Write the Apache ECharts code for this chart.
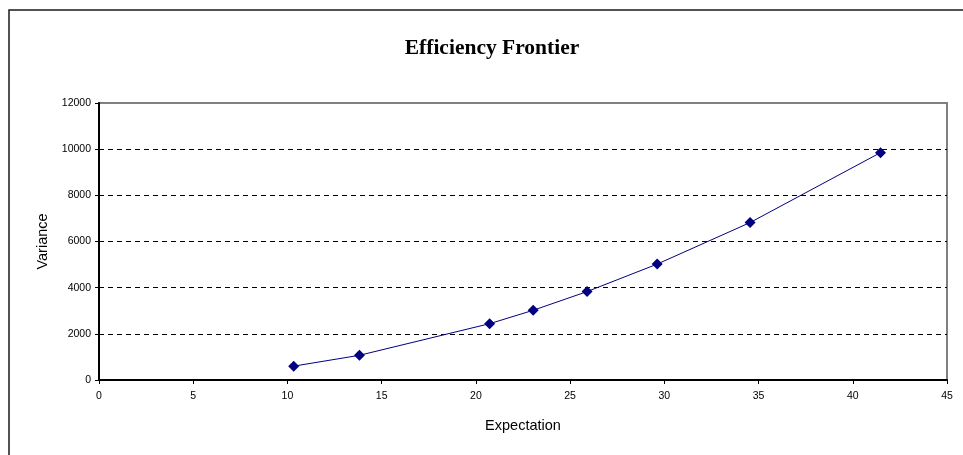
<!DOCTYPE html>
<html>
<head>
<meta charset="utf-8">
<script src="https://cdn.jsdelivr.net/npm/echarts@6/dist/echarts.min.js"></script>
<style>
html,body{margin:0;padding:0;background:#fff;}
#chart{width:963px;height:455px;}
</style>
</head>
<body>
<div id="chart"></div>
<script>
var chartTitle = "Efficiency Frontier";
var xAxisName = "Expectation";
var yAxisName = "Variance";
var expectation = [10.33, 13.82, 20.73, 23.04, 25.9, 29.62, 34.55, 41.47];
var variance = [600, 1070, 2440, 3020, 3830, 5020, 6820, 9850];

var points = expectation.map(function (x, i) { return [x, variance[i]]; });

var chart = echarts.init(document.getElementById('chart'), null, {renderer: 'canvas'});
chart.setOption({
  animation: false,
  backgroundColor: '#fff',
  title: {
    text: chartTitle,
    left: 487,
    textAlign: 'center',
    top: 32,
    textStyle: {fontFamily: '"Liberation Serif", "Times New Roman", serif', fontWeight: 'bold', fontSize: 21.5, color: '#000'}
  },
  graphic: [{
    type: 'rect',
    shape: {x: 9, y: 10, width: 1000, height: 500},
    style: {fill: null, stroke: '#1a1a1a', lineWidth: 1.5},
    silent: true,
    z: -1
  }],
  grid: {
    left: 99, right: 16, top: 103, bottom: 75,
    show: true, borderColor: '#808080', borderWidth: 2, backgroundColor: 'transparent'
  },
  xAxis: {
    type: 'value', min: 0, max: 45, interval: 5,
    name: xAxisName, nameLocation: 'middle', nameGap: 38,
    nameTextStyle: {fontFamily: '"Liberation Sans", Arial, sans-serif', fontSize: 14.5, color: '#000'},
    axisLine: {show: true, onZero: false, lineStyle: {color: '#000', width: 2}},
    axisTick: {show: true, length: 4, lineStyle: {color: '#000', width: 1}},
    axisLabel: {margin: 11, fontFamily: '"Liberation Sans", Arial, sans-serif', fontSize: 10.5, color: '#000'},
    splitLine: {show: false}
  },
  yAxis: {
    type: 'value', min: 0, max: 12000, interval: 2000,
    name: yAxisName, nameLocation: 'middle', nameGap: 48,
    nameTextStyle: {fontFamily: '"Liberation Sans", Arial, sans-serif', fontSize: 14.5, color: '#000'},
    axisLine: {show: true, onZero: false, lineStyle: {color: '#000', width: 2}},
    axisTick: {show: true, length: 4, lineStyle: {color: '#000', width: 1}},
    axisLabel: {margin: 8, fontFamily: '"Liberation Sans", Arial, sans-serif', fontSize: 10.5, color: '#000',
      formatter: function (v) { return String(v); }},
    splitLine: {show: true, showMinLine: false, showMaxLine: false, lineStyle: {color: '#000', width: 1, type: [5, 4]}}
  },
  series: [{
    type: 'line',
    data: points,
    symbol: 'diamond',
    symbolSize: 11,
    itemStyle: {color: '#000080'},
    lineStyle: {color: '#000080', width: 1},
    z: 5
  }]
});
</script>
</body>
</html>
